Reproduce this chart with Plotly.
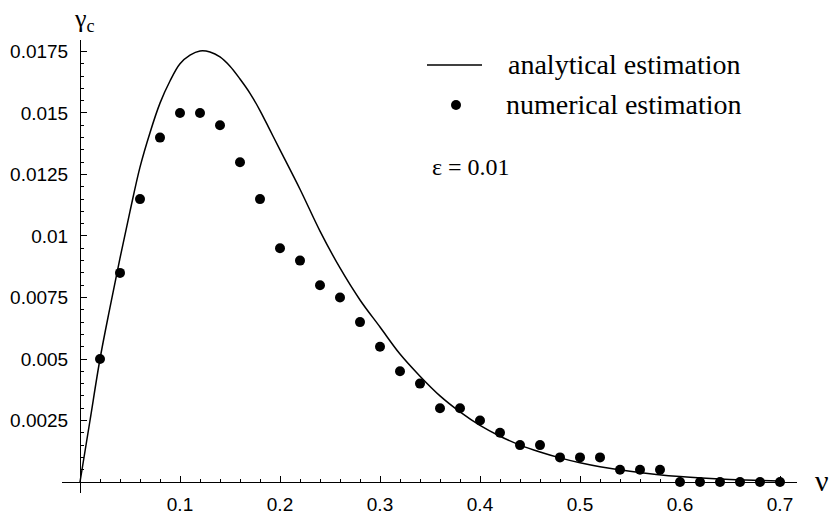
import plotly.graph_objects as go

# numerical estimation (dots)
nu_num = [0.02, 0.04, 0.06, 0.08, 0.10, 0.12, 0.14, 0.16, 0.18, 0.20,
          0.22, 0.24, 0.26, 0.28, 0.30, 0.32, 0.34, 0.36, 0.38, 0.40,
          0.42, 0.44, 0.46, 0.48, 0.50, 0.52, 0.54, 0.56, 0.58, 0.60,
          0.62, 0.64, 0.66, 0.68, 0.70]
gamma_num = [0.005, 0.0085, 0.0115, 0.014, 0.015, 0.015, 0.0145, 0.013, 0.0115, 0.0095,
             0.009, 0.008, 0.0075, 0.0065, 0.0055, 0.0045, 0.004, 0.003, 0.003, 0.0025,
             0.002, 0.0015, 0.0015, 0.001, 0.001, 0.001, 0.0005, 0.0005, 0.0005, 0.0,
             0.0, 0.0, 0.0, 0.0, 0.0]

# analytical estimation (curve)
nu_an = [0.0, 0.01, 0.02, 0.03, 0.04, 0.05, 0.06, 0.07, 0.08, 0.09, 0.10, 0.11, 0.12,
         0.13, 0.14, 0.15, 0.16, 0.17, 0.18, 0.19, 0.20, 0.22, 0.24, 0.26, 0.28, 0.30,
         0.32, 0.34, 0.36, 0.38, 0.40, 0.42, 0.44, 0.46, 0.48, 0.50, 0.52, 0.55, 0.60,
         0.65, 0.70]
gamma_an = [0.0, 0.0025, 0.0050, 0.0071, 0.0091, 0.0110, 0.0128, 0.0142, 0.0154, 0.0163,
            0.0170, 0.01735, 0.01752, 0.01748, 0.01728, 0.0169, 0.01638, 0.0158, 0.0151, 0.0143,
            0.0135, 0.0119, 0.0102, 0.0087, 0.0074, 0.0063,
            0.0052, 0.0043, 0.0035, 0.00285, 0.0023, 0.00186, 0.0015, 0.00122, 0.00098, 0.00078,
            0.00062, 0.00044, 0.00022, 0.0001, 0.00004]

x_ticks = [0.1, 0.2, 0.3, 0.4, 0.5, 0.6, 0.7]
x_ticktext = ["0.1", "0.2", "0.3", "0.4", "0.5", "0.6", "0.7"]
y_ticks = [0.0025, 0.005, 0.0075, 0.01, 0.0125, 0.015, 0.0175]
y_ticktext = ["0.0025", "0.005", "0.0075", "0.01", "0.0125", "0.015", "0.0175"]

XR = [-0.018, 0.717]
YR = [-0.000447, 0.017967]

W, H = 833, 513
ML, MR, MT, MB = 62, 36, 40, 20
PW, PH = W - ML - MR, H - MT - MB


def px(x):
    return (x - ML) / PW


def py(y):
    return (H - MB - y) / PH


fig = go.Figure()
fig.add_trace(go.Scatter(x=nu_an, y=gamma_an, mode="lines",
                         line=dict(color="black", width=1.5, shape="spline", smoothing=1.0),
                         showlegend=False, hoverinfo="skip"))
fig.add_trace(go.Scatter(x=nu_num, y=gamma_num, mode="markers", marker=dict(color="black", size=10),
                         showlegend=False, cliponaxis=False))

tickfont = dict(family="Liberation Sans, Arial, sans-serif", size=19, color="black")

fig.update_layout(
    template="none",
    width=W, height=H,
    margin=dict(l=ML, r=MR, t=MT, b=MB, autoexpand=False),
    paper_bgcolor="white", plot_bgcolor="white",
    xaxis=dict(range=XR, anchor="free", position=(0 - YR[0]) / (YR[1] - YR[0]), automargin=False,
               showgrid=False, zeroline=False, showline=True, linecolor="black", linewidth=1,
               tickmode="array", tickvals=x_ticks, ticktext=x_ticktext,
               ticks="inside", ticklen=6, tickcolor="black", tickwidth=1,
               minor=dict(tickmode="linear", tick0=0, dtick=0.02, ticks="inside", ticklen=3,
                          tickcolor="black", tickwidth=1, showgrid=False),
               tickfont=tickfont, ticklabelstandoff=5),
    yaxis=dict(range=YR, anchor="free", position=(0 - XR[0]) / (XR[1] - XR[0]), automargin=False,
               showgrid=False, zeroline=False, showline=True, linecolor="black", linewidth=1,
               tickmode="array", tickvals=y_ticks, ticktext=y_ticktext,
               ticks="inside", ticklen=6, tickcolor="black", tickwidth=1,
               minor=dict(tickmode="linear", tick0=0, dtick=0.0005, ticks="inside", ticklen=3,
                          tickcolor="black", tickwidth=1, showgrid=False),
               tickfont=tickfont, ticklabelstandoff=8),
)

serif = "Liberation Serif, Times New Roman, serif"
fig.add_annotation(x=px(84), y=py(20), xref="paper", yref="paper", text="γ<sub>c</sub>",
                   showarrow=False, font=dict(family=serif, size=26, color="black"),
                   xanchor="center", yanchor="middle")
fig.add_annotation(x=px(822), y=py(480), xref="paper", yref="paper", text="ν",
                   showarrow=False, font=dict(family=serif, size=30, color="black"),
                   xanchor="center", yanchor="middle")

# legend
fig.add_shape(type="line", xref="paper", yref="paper", x0=px(427), x1=px(482), y0=py(65), y1=py(65),
              line=dict(color="black", width=1.5))
fig.add_shape(type="circle", xref="paper", yref="paper", xsizemode="pixel", ysizemode="pixel",
              xanchor=px(456), yanchor=py(105), x0=-5, x1=5, y0=-5, y1=5,
              fillcolor="black", line=dict(color="black", width=0))
fig.add_annotation(x=px(506), y=py(65), xref="paper", yref="paper", text="analytical estimation",
                   showarrow=False, font=dict(family=serif, size=28, color="black"),
                   xanchor="left", yanchor="middle")
fig.add_annotation(x=px(504), y=py(104), xref="paper", yref="paper", text="numerical estimation",
                   showarrow=False, font=dict(family=serif, size=28, color="black"),
                   xanchor="left", yanchor="middle")
fig.add_annotation(x=px(430), y=py(167), xref="paper", yref="paper", text="ε = 0.01",
                   showarrow=False, font=dict(family=serif, size=24, color="black"),
                   xanchor="left", yanchor="middle")

fig.write_html("out.html", config={"displayModeBar": False},
               post_script="document.body.style.margin='0px';")
